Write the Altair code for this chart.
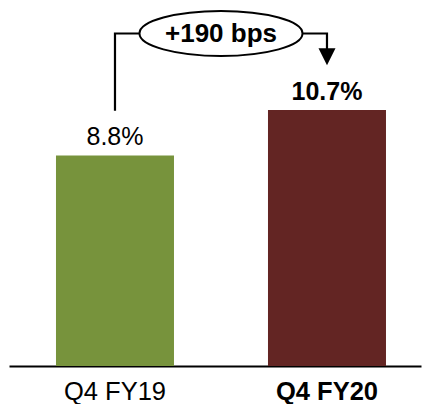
import altair as alt
import pandas as pd

# ---- data ----
categories = ["Q4 FY19", "Q4 FY20"]
values = [8.8, 10.7]
value_labels = ["8.8%", "10.7%"]
label_bold = [False, True]
bar_colors = ["#77933C", "#632523"]
change_label = "+190 bps"

FONT = "Liberation Sans"
LABEL_GAP = 1.87      # data units between bar top and connector end
BRACKET_LEVEL = 13.9  # data level of the bracket
ARROW_LEN = 0.6

bars_df = pd.DataFrame({"cat": categories, "value": values, "label": value_labels,
                        "bold": label_bold, "color": bar_colors})

conn_df = pd.DataFrame({
    "cat": [categories[0], categories[0], categories[1], categories[1]],
    "y": [values[0] + LABEL_GAP, BRACKET_LEVEL, BRACKET_LEVEL, values[1] + LABEL_GAP + ARROW_LEN],
    "order": [0, 1, 2, 3],
})
arrow_df = pd.DataFrame({"cat": [categories[1]], "y": [values[1] + LABEL_GAP]})
badge_df = pd.DataFrame({"cat": [categories[0]], "y": [BRACKET_LEVEL], "text": [change_label]})

x_scale = alt.Scale(domain=categories, paddingInner=0.4434, paddingOuter=0.1934, align=0.573)
y_scale = alt.Scale(domain=[0, 15.3], nice=False, zero=True)

bold_expr = "datum.value == '" + categories[-1] + "' ? 'bold' : 'normal'"

x_axis = alt.Axis(
    title=None, ticks=False, tickSize=0, domain=True, domainColor="black", domainWidth=2,
    labelAngle=0, labelFont=FONT, labelFontSize=25.5, labelColor="black",
    labelBaseline="alphabetic", labelPadding=33,
    labelFontWeight=alt.ExprRef(expr=bold_expr), grid=False,
)

x_enc = alt.X("cat:N", scale=x_scale, sort=categories, axis=x_axis)
x_plain = alt.X("cat:N", scale=x_scale, sort=categories)

bars = alt.Chart(bars_df).mark_bar().encode(
    x=x_enc,
    y=alt.Y("value:Q", scale=y_scale, axis=None),
    color=alt.Color("color:N", scale=None),
)

labels_normal = alt.Chart(bars_df).transform_filter("!datum.bold").mark_text(
    font=FONT, fontSize=25, baseline="alphabetic", align="center", dy=-10, color="black"
).encode(x=x_plain, y=alt.Y("value:Q", scale=y_scale), text="label:N")

labels_bold = alt.Chart(bars_df).transform_filter("datum.bold").mark_text(
    font=FONT, fontSize=25, fontWeight="bold", baseline="alphabetic", align="center", dy=-10, color="black"
).encode(x=x_plain, y=alt.Y("value:Q", scale=y_scale), text="label:N")

connector = alt.Chart(conn_df).mark_line(
    color="black", strokeWidth=2.2, strokeCap="butt", strokeJoin="miter"
).encode(x=x_plain, y=alt.Y("y:Q", scale=y_scale), order="order:Q")

arrow = alt.Chart(arrow_df).mark_point(
    shape="M -1 -2 L 1 -2 L 0 0 Z", size=289, filled=True, color="black", opacity=1
).encode(x=x_plain, y=alt.Y("y:Q", scale=y_scale))

ellipse_path = ("M -1 0 C -1 -0.1524 -0.5523 -0.276 0 -0.276 "
                "C 0.5523 -0.276 1 -0.1524 1 0 "
                "C 1 0.1524 0.5523 0.276 0 0.276 "
                "C -0.5523 0.276 -1 0.1524 -1 0 Z")

badge = alt.Chart(badge_df).mark_point(
    shape=ellipse_path, size=163 ** 2, filled=True, fill="white", stroke="black",
    strokeWidth=2, opacity=1, fillOpacity=1, xOffset=106
).encode(x=x_plain, y=alt.Y("y:Q", scale=y_scale))

badge_text = alt.Chart(badge_df).mark_text(
    font=FONT, fontSize=26, fontWeight="bold", baseline="middle", align="center",
    color="black", xOffset=106, dy=1
).encode(x=x_plain, y=alt.Y("y:Q", scale=y_scale), text="text:N")

chart = alt.layer(
    bars, labels_normal, labels_bold, connector, arrow, badge, badge_text
).properties(
    width=412, height=366,
    autosize=alt.AutoSizeParams(type="none"),
    padding={"left": 9, "top": 0, "right": 3, "bottom": 38},
    background="white",
).configure_view(stroke=None)

chart.save("out.html", embed_options={"renderer": "svg", "actions": False})
